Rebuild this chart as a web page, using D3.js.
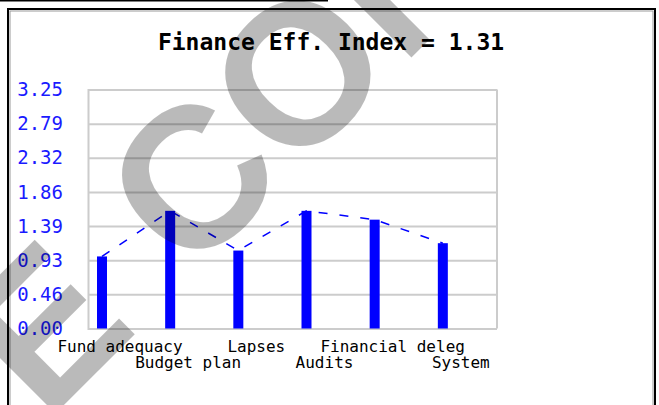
<!DOCTYPE html>
<html>
<head>
<meta charset="utf-8">
<script src="https://cdn.jsdelivr.net/npm/d3@7"></script>
<style>
  body { margin: 0; background: #fff; }
  svg { display: block; }
</style>
</head>
<body>
<script>
// chart values
const categories = ["Fund adequacy", "Budget plan", "Lapses", "Audits", "Financial deleg", "System"];
const scores = [0.98, 1.6, 1.06, 1.6, 1.48, 1.16];
const yMax = 3.25;
const yTicks = d3.range(8).map(i => i * yMax / 7);

const W = 659, H = 405;
const plotL = 88, plotR = 497, plotT = 89.5, plotB = 328.5;

const svg = d3.select("body").append("svg")
  .attr("width", W)
  .attr("height", H);

// outer frame
svg.append("line")
  .attr("x1", 0).attr("x2", 328).attr("y1", 0.5).attr("y2", 0.5)
  .attr("stroke", "#000").attr("stroke-width", 2);
svg.append("rect")
  .attr("x", 8).attr("y", 9).attr("width", 647).attr("height", 500)
  .attr("fill", "#fff").attr("stroke", "#000").attr("stroke-width", 2);
svg.append("rect")
  .attr("x", 10).attr("y", 11).attr("width", 643).attr("height", 500)
  .attr("fill", "none").attr("stroke", "#999").attr("stroke-width", 1);

const x = d3.scaleBand().domain(categories).range([plotL, plotR]);
const y = d3.scaleLinear().domain([0, yMax]).range([plotB, plotT]);

// title, mean of the scores
svg.append("text")
  .attr("x", 331).attr("y", 50)
  .attr("text-anchor", "middle")
  .style("font-family", "DejaVu Sans Mono")
  .style("font-weight", "bold")
  .style("font-size", "23px")
  .text("Finance Eff. Index = " + d3.format(".2f")(d3.mean(scores)));

// grid + y labels
const yAxis = svg.append("g")
  .attr("transform", `translate(${plotL},0)`)
  .call(d3.axisLeft(y).tickValues(yTicks).tickSize(-(plotR - plotL)).tickPadding(25).tickFormat(d3.format(".2f")));
yAxis.select(".domain").attr("stroke", "#ccc").attr("stroke-width", 2);
yAxis.selectAll(".tick line").attr("stroke", "#ccc").attr("stroke-width", 2);
yAxis.selectAll(".tick text")
  .attr("fill", "#1a1aff")
  .style("font-family", "DejaVu Sans Mono")
  .style("font-size", "19px");

svg.append("line")
  .attr("x1", plotR).attr("x2", plotR).attr("y1", plotT).attr("y2", plotB)
  .attr("stroke", "#ccc").attr("stroke-width", 2);

// dashed line through bar tops
svg.append("path")
  .datum(scores)
  .attr("fill", "none")
  .attr("stroke", "#0000ff")
  .attr("stroke-width", 1.5)
  .attr("stroke-dasharray", "9,12")
  .attr("d", d3.line()
    .x((d, i) => x(categories[i]) + 14)
    .y(d => y(d)));

// bars
svg.append("g").selectAll("rect")
  .data(scores)
  .join("rect")
  .attr("x", (d, i) => x(categories[i]) + 9)
  .attr("width", 10)
  .attr("y", d => y(d))
  .attr("height", d => y(0) - y(d))
  .attr("fill", "#0000ff");

// watermark
const wm = svg.append("text")
  .attr("transform", "translate(46,423) rotate(-45)")
  .style("font-family", "Liberation Sans")
  .style("font-weight", "bold")
  .style("font-size", "200px")
  .attr("fill", "#000")
  .attr("fill-opacity", 0.27);
wm.append("tspan").text("E");
wm.append("tspan").attr("dx", 70).text("CONOMY");

// x labels, staggered in two rows
svg.append("g").selectAll("text")
  .data(categories)
  .join("text")
  .attr("x", d => x(d) + 32)
  .attr("y", (d, i) => i % 2 ? 368 : 352)
  .attr("text-anchor", "middle")
  .style("font-family", "DejaVu Sans Mono")
  .style("font-size", "16px")
  .text(d => d);
</script>
</body>
</html>
